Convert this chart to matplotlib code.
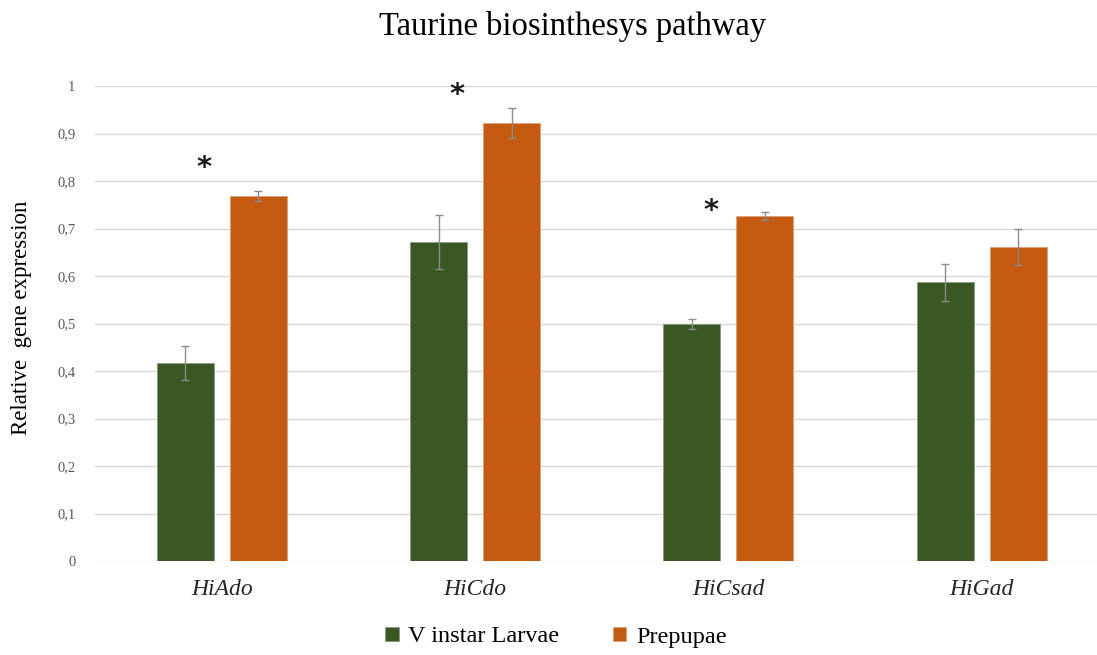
import numpy as np
import matplotlib
matplotlib.use('Agg')
import matplotlib.pyplot as plt

# Datos
genes = ['HiAdo', 'HiCdo', 'HiCsad', 'HiGad']
larvae = [0.417, 0.672, 0.499, 0.587]
larvae_err = [0.035, 0.057, 0.010, 0.039]
prepupae = [0.768, 0.922, 0.726, 0.661]
prepupae_err = [0.010, 0.031, 0.008, 0.037]
star_y = [0.827, 0.981, 0.737]  # asteriscos de significancia (solo tres genes)
y_ticks = [0, 0.1, 0.2, 0.3, 0.4, 0.5, 0.6, 0.7, 0.8, 0.9, 1]
y_labels = ['0', '0,1', '0,2', '0,3', '0,4', '0,5', '0,6', '0,7', '0,8', '0,9', '1']

verde = '#3a5724'
naranja = '#c55a11'
serif = ['Liberation Serif', 'DejaVu Serif']

W, H = 1097, 655
fig = plt.figure(figsize=(W/100, H/100), dpi=100)
ax = fig.add_axes([95/W, 94/H, (W-95)/W, 475/H])

x = np.arange(len(genes))
w = 0.225
d = 0.144
ax.bar(x - d, larvae, w, color=verde, edgecolor='#8a9a80', linewidth=0.6,
       yerr=larvae_err, error_kw=dict(ecolor='#8c8c8c', elinewidth=1, capsize=3, capthick=1),
       label='V instar Larvae', zorder=3)
ax.bar(x + d, prepupae, w, color=naranja, edgecolor='#e0a080', linewidth=0.6,
       yerr=prepupae_err, error_kw=dict(ecolor='#8c8c8c', elinewidth=1, capsize=3, capthick=1),
       label='Prepupae', zorder=3)

for i, sy in enumerate(star_y):
    ax.text(x[i] - 0.07, sy, '*', ha='center', va='center', fontsize=21,
            fontweight='bold', family='DejaVu Sans', color='#1a1a1a')

ax.set_ylim(0, 1)
ax.set_xlim(-0.5, (W - 222) / 253.3)
ax.set_yticks(y_ticks)
ax.set_yticklabels(y_labels, family=serif, fontsize=10.5, color='#595959')
ax.set_xticks(x)
ax.set_xticklabels(genes, family=serif, fontsize=17, style='italic', color='#262626')
ax.tick_params(axis='both', length=0)
ax.tick_params(axis='y', pad=14)
ax.tick_params(axis='x', pad=13)
ax.grid(axis='y', color='#d9d9d9', linewidth=1, zorder=0)
for s in ax.spines.values():
    s.set_visible(False)

fig.text(22/W, 1 - 318/H, 'Relative  gene expression', rotation=90, ha='center', va='center',
         family=serif, fontsize=16.5, color='black')
fig.text(573/W, 1 - 27/H, 'Taurine biosinthesys pathway', ha='center', va='center',
         family=serif, fontsize=23.5, color='black')

leg = fig.legend(loc='center', bbox_to_anchor=(556/W, 1 - 637/H), ncol=2, frameon=False,
                 prop={'family': serif, 'size': 17.5}, handlelength=0.55, handleheight=0.55,
                 columnspacing=2.2, handletextpad=0.4)

fig.savefig('out.png', dpi=100)
